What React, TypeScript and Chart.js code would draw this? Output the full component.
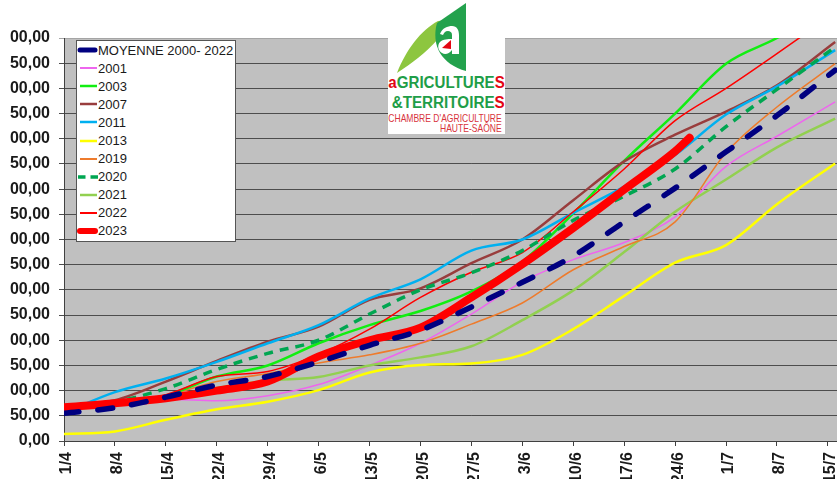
import { useEffect, useRef } from 'react';
import Chart from 'chart.js/auto';

// day offsets from 1/4 (weekly readings, last one at the right edge)
const DAYS = [0, 7, 14, 21, 28, 35, 42, 49, 56, 63, 70, 77, 84, 91, 98, 106];
const DAYS_2023 = [0, 7, 14, 21, 28, 35, 42, 49, 56, 63, 70, 77, 84, 86];

const X_TICK_LABELS = [
  '1/4', '8/4', '15/4', '22/4', '29/4', '6/5', '13/5', '20/5', '27/5',
  '3/6', '10/6', '17/6', '24/6', '1/7', '8/7', '15/7', '22/7',
];

const MOYENNE = [55, 66, 87, 111, 128, 157, 190, 220, 266, 315, 367, 435, 502, 574, 646, 736];
const Y2001 = [68, 72, 83, 80, 90, 112, 150, 194, 252, 316, 360, 394, 445, 545, 605, 673];
const Y2003 = [68, 73, 90, 128, 150, 194, 230, 258, 297, 356, 452, 556, 650, 749, 800, 870];
const Y2007 = [70, 81, 118, 159, 197, 227, 280, 303, 353, 400, 478, 555, 608, 654, 706, 792];
const Y2011 = [56, 97, 124, 157, 194, 230, 283, 321, 378, 400, 453, 505, 568, 648, 704, 776];
const Y2013 = [14, 19, 42, 63, 78, 101, 136, 151, 154, 171, 222, 288, 354, 389, 470, 551];
const Y2019 = [68, 75, 90, 118, 134, 155, 171, 194, 232, 274, 340, 386, 435, 572, 663, 749];
const Y2020 = [68, 78, 104, 142, 174, 200, 252, 300, 334, 378, 438, 486, 540, 624, 698, 782];
const Y2021 = [68, 73, 88, 105, 120, 127, 150, 166, 188, 240, 299, 375, 455, 519, 583, 640];
const Y2022 = [68, 75, 92, 128, 138, 172, 222, 285, 335, 374, 455, 540, 636, 700, 769, 850];
const Y2023 = [67, 75, 85, 100, 118, 168, 200, 225, 285, 351, 423, 499, 575, 602];

type Serie = {
  label: string;
  days: number[];
  values: number[];
  color: string;
  width: number;
  dash?: number[];
  cap?: CanvasLineCap;
  order: number;
};

const SERIES: Serie[] = [
  { label: 'MOYENNE 2000- 2022', days: DAYS, values: MOYENNE, color: '#000080', width: 5.5, dash: [15, 19], cap: 'round', order: 0 },
  { label: '2001', days: DAYS, values: Y2001, color: '#EE66EE', width: 1.5, order: 9 },
  { label: '2003', days: DAYS, values: Y2003, color: '#11EE11', width: 2.5, order: 6 },
  { label: '2007', days: DAYS, values: Y2007, color: '#993D3D', width: 2.5, order: 5 },
  { label: '2011', days: DAYS, values: Y2011, color: '#00B0F0', width: 2.5, order: 4 },
  { label: '2013', days: DAYS, values: Y2013, color: '#FFFF00', width: 2.5, order: 10 },
  { label: '2019', days: DAYS, values: Y2019, color: '#EE7B2C', width: 1.5, order: 7 },
  { label: '2020', days: DAYS, values: Y2020, color: '#00A651', width: 3.5, dash: [9, 7], order: 2 },
  { label: '2021', days: DAYS, values: Y2021, color: '#92D050', width: 2.5, order: 8 },
  { label: '2022', days: DAYS, values: Y2022, color: '#FF0000', width: 1.5, order: 3 },
  { label: '2023', days: DAYS_2023, values: Y2023, color: '#FF0000', width: 8, cap: 'round', order: 1 },
];

const FONT = '"Liberation Sans", Arial, Helvetica, sans-serif';

const plotBackground = {
  id: 'plotBackground',
  beforeDraw(chart: Chart) {
    const { ctx, chartArea } = chart;
    ctx.save();
    ctx.fillStyle = '#C0C0C0';
    ctx.fillRect(chartArea.left, chartArea.top, chartArea.right - chartArea.left, chartArea.bottom - chartArea.top);
    ctx.restore();
  },
};

function LegendSample({ s }: { s: Serie }) {
  if (s.label === '2020') {
    return (
      <svg width={21} height={18} style={{ display: 'block' }}>
        <line x1={1} x2={21} y1={9} y2={9} stroke={s.color} strokeWidth={3.5} strokeDasharray="7.5 5" />
      </svg>
    );
  }
  const thick = s.width >= 5;
  return (
    <svg width={21} height={18} style={{ display: 'block' }}>
      <line
        x1={3}
        x2={thick ? 18 : 20}
        y1={9}
        y2={9}
        stroke={s.color}
        strokeWidth={thick ? (s.width > 6 ? 6 : 5) : Math.max(s.width, 2)}
        strokeLinecap={thick ? 'round' : 'butt'}
      />
    </svg>
  );
}

function Legend() {
  return (
    <div
      style={{
        position: 'absolute',
        left: 76,
        top: 40,
        width: 158,
        height: 200,
        background: '#fff',
        border: '1px solid #555',
        fontFamily: FONT,
        fontSize: 13,
        color: '#1a1a1a',
      }}
    >
      {SERIES.map((s) => (
        <div key={s.label} style={{ display: 'flex', alignItems: 'center', height: 18.1, whiteSpace: 'nowrap' }}>
          <LegendSample s={s} />
          <span>{s.label}</span>
        </div>
      ))}
    </div>
  );
}

function Logo() {
  return (
    <svg width={117} height={134} style={{ position: 'absolute', left: 388, top: 0 }}>
      <rect width={117} height={134} fill="#fff" />
      <path d="M9,73 C18,50 33,30 50,21 L68,19 C61,26 55,32 50,39 C38,53 24,63 9,73 Z" fill="#8DC63F" />
      <path d="M78,3 L78,71 C66,68 57,61 52,53 C47,45 46,33 49,23 Z" fill="#23A24D" />
      <path
        d="M52,34 C54,28 60,26 64,26 C69,26 71,30 71,35 L71,54 L64,54 L64,50 C61,54 57,55 54,53 C50,51 49,45 52,42 C55,39 60,39 64,39 L64,35 C64,32 62,31 60,31 C57,31 56,33 55,35 Z"
        fill="#fff"
      />
      <path d="M54,48 L63,40 L63,49 Z" fill="#E30613" />
      <text x={0.3} y={88.3} textLength={116.5} lengthAdjust="spacingAndGlyphs" fontSize={16.5} fontWeight="bold" fontFamily={FONT}>
        <tspan fill="#E30613">a</tspan>
        <tspan fill="#1F9E48">GRICULTURE</tspan>
        <tspan fill="#E30613">S</tspan>
      </text>
      <text x={3.7} y={108.3} textLength={113} lengthAdjust="spacingAndGlyphs" fontSize={16} fontWeight="bold" fontFamily={FONT}>
        <tspan fill="#1F9E48">&amp;TERRITOIRE</tspan>
        <tspan fill="#E30613">S</tspan>
      </text>
      <text x={0.3} y={121.6} textLength={113.4} lengthAdjust="spacingAndGlyphs" fontSize={11.5} fill="#D8343C" fontFamily={FONT}>
        CHAMBRE D'AGRICULTURE
      </text>
      <text x={52} y={131.8} textLength={61.7} lengthAdjust="spacingAndGlyphs" fontSize={11} fill="#D8343C" fontFamily={FONT}>
        HAUTE-SAÔNE
      </text>
    </svg>
  );
}

function DegreeDaysChart() {
  const canvasRef = useRef<HTMLCanvasElement | null>(null);

  useEffect(() => {
    if (!canvasRef.current) return;
    const chart = new Chart(canvasRef.current, {
      type: 'line',
      data: {
        datasets: SERIES.map((s) => ({
          label: s.label,
          data: s.days.map((d, i) => ({ x: d, y: s.values[i] })),
          borderColor: s.color,
          backgroundColor: s.color,
          borderWidth: s.width,
          borderDash: s.dash ?? [],
          borderCapStyle: s.cap ?? 'butt',
          borderJoinStyle: 'round',
          pointRadius: 0,
          fill: false,
          cubicInterpolationMode: 'monotone',
          clip: 0,
          order: s.order,
        })),
      },
      options: {
        animation: false,
        responsive: false,
        maintainAspectRatio: false,
        layout: { padding: { top: 38, right: 20, bottom: 0, left: 0 } },
        plugins: { legend: { display: false }, tooltip: { enabled: false } },
        scales: {
          x: {
            type: 'linear',
            min: 0,
            max: 112,
            afterFit: (scale) => {
              scale.height = 59;
            },
            ticks: {
              stepSize: 7,
              autoSkip: false,
              minRotation: 90,
              maxRotation: 90,
              padding: 6,
              labelOffset: 3,
              color: '#1a1a1a',
              font: { family: FONT, size: 16, weight: 'bold' },
              callback: (v) => X_TICK_LABELS[Math.round(Number(v) / 7)] ?? '',
            },
            grid: { drawOnChartArea: false, drawTicks: true, tickLength: 5, color: '#404040' },
            border: { color: '#404040' },
          },
          y: {
            min: 0,
            max: 800,
            afterFit: (scale) => {
              scale.width = 64;
            },
            ticks: {
              stepSize: 50,
              padding: 9,
              color: '#1a1a1a',
              font: { family: FONT, size: 16, weight: 'bold' },
              callback: (v) => Number(v).toFixed(2).replace('.', ','),
            },
            grid: {
              tickLength: 5,
              color: (ctx) => (ctx.tick && ctx.tick.value === 800 ? '#a5a5a5' : '#4d4d4d'),
            },
            border: { color: '#404040' },
          },
        },
      },
      plugins: [plotBackground],
    });
    return () => chart.destroy();
  }, []);

  return (
    <div style={{ position: 'absolute', left: 0, top: 0, width: 904, height: 500, clipPath: 'inset(0 0 0 10px)' }}>
      <canvas ref={canvasRef} width={904} height={500} style={{ width: 904, height: 500, display: 'block' }} />
    </div>
  );
}

export default function App() {
  return (
    <div
      style={{
        position: 'fixed',
        left: 0,
        top: 0,
        width: 837,
        height: 479,
        overflow: 'hidden',
        background: '#fff',
      }}
    >
      <DegreeDaysChart />
      <Legend />
      <Logo />
    </div>
  );
}
